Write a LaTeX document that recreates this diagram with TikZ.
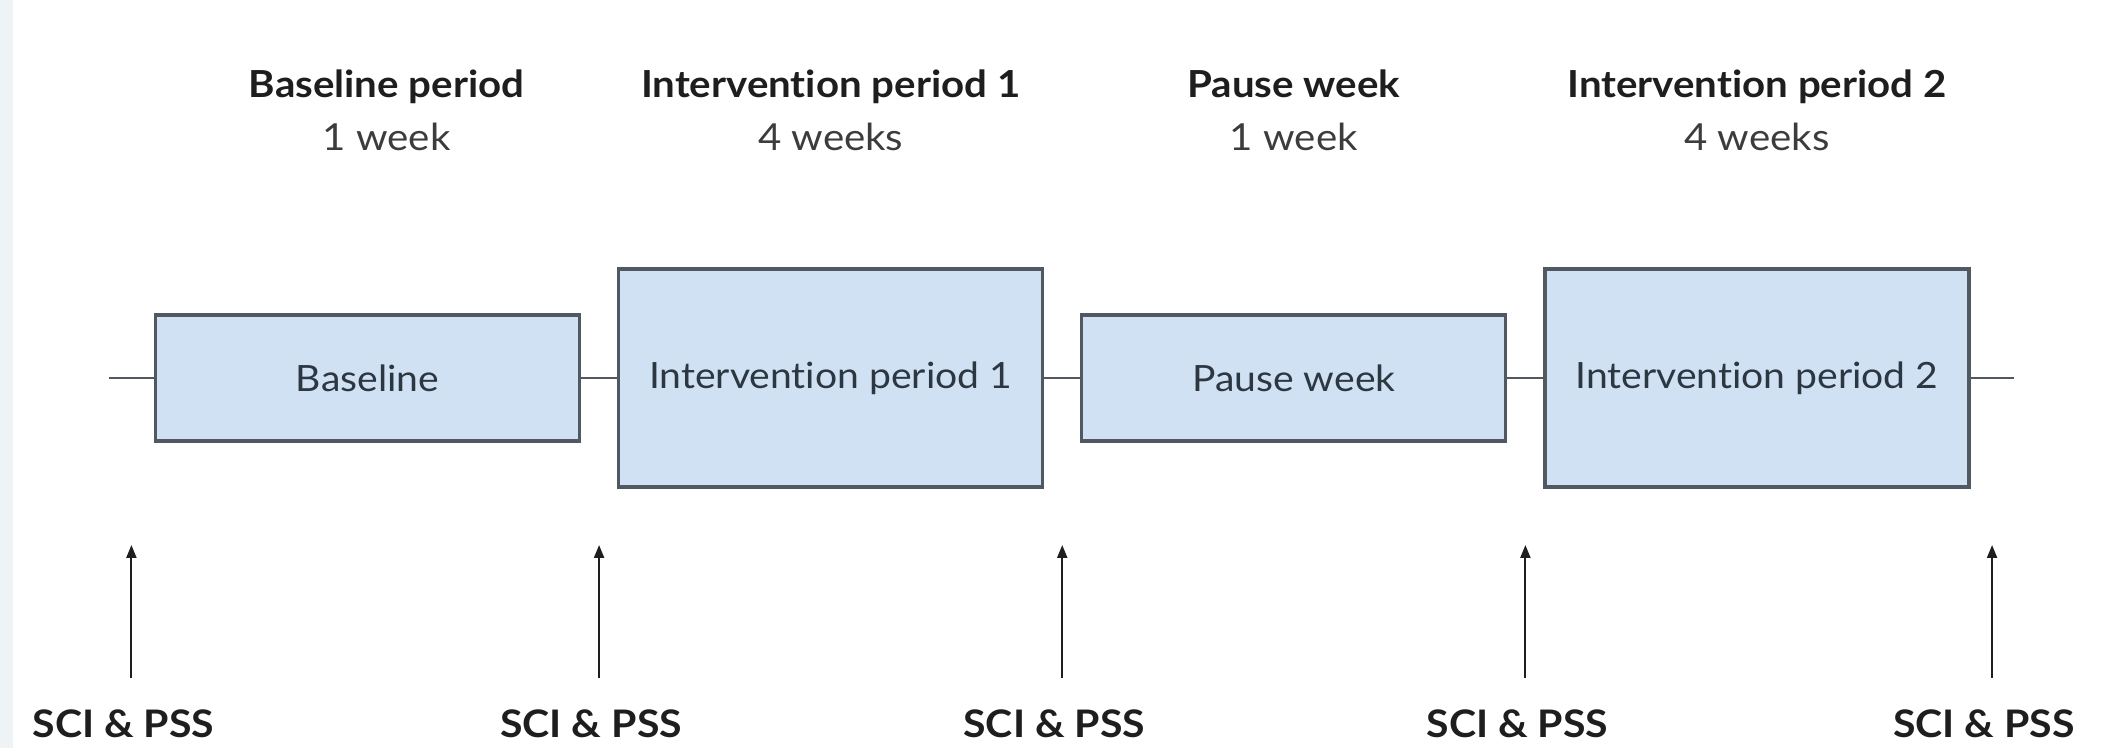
\documentclass[tikz,border=0pt]{standalone}
\usepackage{fontspec}
\setmainfont{Lato}[FakeStretch=1.08, Ligatures=NoCommon]
\usetikzlibrary{arrows.meta,positioning}
\definecolor{boxfill}{RGB}{207,225,242}
\definecolor{boxline}{RGB}{80,88,98}
\definecolor{boxtext}{RGB}{45,55,66}
\definecolor{sidebar}{RGB}{238,243,246}
\definecolor{inkgray}{RGB}{30,30,30}
\definecolor{softink}{RGB}{60,60,60}

\begin{document}
\begin{tikzpicture}[
    node distance=3.6mm,
    box/.style={draw=boxline, line width=0.9pt, fill=boxfill, minimum width=4.24cm, minimum height=1.26cm, inner sep=0pt, text=boxtext, font=\fontsize{10.3}{12}\selectfont},
    tall/.style={box, minimum height=2.18cm},
    head/.style={anchor=north, inner sep=0pt, align=center, text=softink, font=\fontsize{10.6}{15.2}\selectfont},
    meas/.style={anchor=base, inner sep=0pt, xshift=-0.8mm, text=inkgray, font=\fontsize{10.8}{12}\selectfont\bfseries},
    link/.style={boxline, line width=0.7pt},
    arrow/.style={-{Triangle[length=1.3mm, width=1mm]}, line width=0.6pt, inkgray}
  ]
    \useasboundingbox (0,0) rectangle (21.09,7.48);
    \fill[sidebar] (0,0) rectangle (0.13,7.48);

    \node[box] (base) at (3.675,3.70) {Baseline};
    \node[tall, right=of base] (int1) {Intervention period 1};
    \node[box, right=of int1] (pause) {Pause week};
    \node[tall, right=of pause] (int2) {Intervention period 2};
    \coordinate[left=4.5mm of base] (start);
    \coordinate[right=4.3mm of int2] (finish);

    \draw[link] (start) -- coordinate (m1) (base);
    \draw[link] (base) -- coordinate (m2) (int1);
    \draw[link] (int1) -- coordinate (m3) (pause);
    \draw[link] (pause) -- coordinate (m4) (int2);
    \draw[link] (int2) -- coordinate (m5) (finish);

    \coordinate (top) at (0,6.79);
    \node[head, xshift=1.9mm] (hbase) at (base |- top) {{\bfseries\color{inkgray}Baseline period}\\1 week};
    \node[head] (hint1) at (int1 |- top) {{\bfseries\color{inkgray}Intervention period 1}\\4 weeks};
    \node[head] (hpause) at (pause |- top) {{\bfseries\color{inkgray}Pause week}\\1 week};
    \node[head] (hint2) at (int2 |- top) {{\bfseries\color{inkgray}Intervention period 2}\\4 weeks};

    \coordinate (foot) at (0,0.10);
    \coordinate (tipy) at (0,2.03);
    \foreach \i in {1,...,5} {
      \node[meas] (sci\i) at (m\i |- foot) {SCI \& PSS};
      \draw[arrow, shorten <=3.2mm] (sci\i.north -| m\i) -- (m\i |- tipy);
    }
  \end{tikzpicture}
\end{document}
